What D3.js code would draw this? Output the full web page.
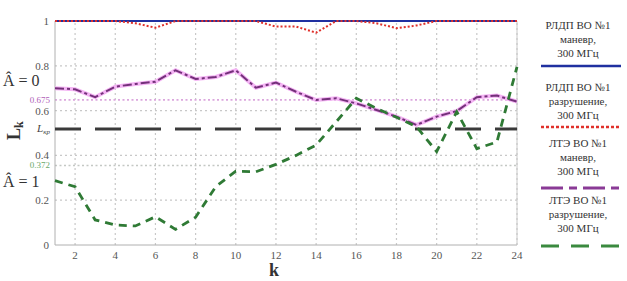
<!DOCTYPE html>
<html>
<head>
<meta charset="utf-8">
<script src="https://cdnjs.cloudflare.com/ajax/libs/d3/7.8.5/d3.min.js"></script>
<style>
  body { margin: 0; background: #fff; }
  svg text { font-family: "Liberation Serif", "Times New Roman", Times, "DejaVu Serif", serif; }
</style>
</head>
<body>
<div id="Area"></div>
<script>
// data
var kValues = d3.range(1, 25);
var xTicks = [2, 4, 6, 8, 10, 12, 14, 16, 18, 20, 22, 24];
var yTicks = [0, 0.2, 0.4, 0.6, 0.8, 1];
var yTickLabels = ["0", "0.2", "0.4", "0.6", "0.8", "1"];

var rldpManeuver = [1, 1, 1, 1, 1, 1, 1, 1, 1, 1, 1, 1, 1, 1, 1, 1, 1, 1, 1, 1, 1, 1, 1, 1];
var rldpDestroy = [1, 1, 1, 1, 0.99, 0.97, 1, 1, 1, 1, 1, 0.975, 0.975, 0.948, 1, 1, 0.99, 0.968, 0.98, 1, 1, 1, 1, 1];
var lteManeuver = [0.70, 0.695, 0.66, 0.707, 0.719, 0.729, 0.78, 0.741, 0.75, 0.78, 0.702, 0.725,
                   0.684, 0.647, 0.655, 0.632, 0.603, 0.573, 0.536, 0.573, 0.598, 0.66, 0.667, 0.64];
var lteDestroy = [0.287, 0.26, 0.112, 0.089, 0.085, 0.126, 0.07, 0.124, 0.26, 0.33, 0.327, 0.36,
                  0.40, 0.446, 0.55, 0.655, 0.61, 0.57, 0.528, 0.417, 0.595, 0.43, 0.46, 0.795];

// threshold lines (position, label as printed)
var thresholdValues = [0.648, 0.355];
var thresholdLabels = ["0.675", "0.372"];
var criticalValue = 0.518;

var legendLines1 = ["РЛДП ВО №1", "РЛДП ВО №1", "ЛТЭ ВО №1", "ЛТЭ ВО №1"];
var legendLines2 = ["маневр,", "разрушение,", "маневр,", "разрушение,"];
var legendLines3 = ["300 МГц", "300 МГц", "300 МГц", "300 МГц"];

var width = 627, height = 281;

var svg = d3.select("#Area")
  .append("svg")
  .attr("width", width)
  .attr("height", height);

var x = d3.scaleLinear().domain([1, 24]).range([55, 517]);
var y = d3.scaleLinear().domain([0, 1]).range([245, 21]);

// grid
svg.append("g")
  .selectAll("line")
  .data(xTicks)
  .enter().append("line")
  .attr("x1", d => x(d)).attr("x2", d => x(d))
  .attr("y1", y(0)).attr("y2", y(1))
  .attr("stroke", "#c8c8c8")
  .attr("stroke-width", 1.2)
  .attr("stroke-dasharray", "2,3");

svg.append("g")
  .selectAll("line")
  .data(yTicks.slice(1, 5))
  .enter().append("line")
  .attr("x1", x(1)).attr("x2", x(24))
  .attr("y1", d => y(d)).attr("y2", d => y(d))
  .attr("stroke", "#c8c8c8")
  .attr("stroke-width", 1.2)
  .attr("stroke-dasharray", "2,3");

// threshold dotted lines
var thrColors = ["#dba6dd", "#c4c8c4"];
svg.append("g")
  .selectAll("line")
  .data(thresholdValues)
  .enter().append("line")
  .attr("x1", x(1)).attr("x2", x(24))
  .attr("y1", d => y(d)).attr("y2", d => y(d))
  .attr("stroke", (d, i) => thrColors[i])
  .attr("stroke-width", 1.6)
  .attr("stroke-dasharray", "2,2.5");

// axes frame
svg.append("line")
  .attr("x1", x(1)).attr("x2", x(1))
  .attr("y1", y(0)).attr("y2", y(1))
  .attr("stroke", "#b0b0b0");
svg.append("line")
  .attr("x1", x(1)).attr("x2", x(24))
  .attr("y1", y(0)).attr("y2", y(0))
  .attr("stroke", "#b0b0b0");
svg.append("line")
  .attr("x1", x(24)).attr("x2", x(24))
  .attr("y1", y(0)).attr("y2", y(1))
  .attr("stroke", "#c8c8c8");

// x tick labels
svg.append("g")
  .selectAll("text")
  .data(xTicks)
  .enter().append("text")
  .attr("x", d => x(d))
  .attr("y", 259)
  .attr("text-anchor", "middle")
  .attr("font-size", 11)
  .attr("fill", "#555")
  .text(d => d);

// y tick labels
svg.append("g")
  .selectAll("text")
  .data(yTicks)
  .enter().append("text")
  .attr("x", 49)
  .attr("y", d => y(d) + 4)
  .attr("text-anchor", "end")
  .attr("font-size", 11)
  .attr("fill", "#555")
  .text((d, i) => yTickLabels[i]);

var thrLabelColors = ["#b060b8", "#6aa86a"];
svg.append("g")
  .selectAll("text")
  .data(thresholdValues)
  .enter().append("text")
  .attr("x", 50)
  .attr("y", d => y(d) + 3)
  .attr("text-anchor", "end")
  .attr("font-size", 9)
  .attr("fill", (d, i) => thrLabelColors[i])
  .text((d, i) => thresholdLabels[i]);

// L_кр label
var lkr = svg.append("text")
  .attr("x", 50)
  .attr("y", y(criticalValue) + 3)
  .attr("text-anchor", "end")
  .attr("font-size", 11)
  .attr("font-style", "italic")
  .attr("fill", "#444");
lkr.append("tspan").text("L");
lkr.append("tspan").attr("font-size", 7).attr("dy", 2).text("кр");

// A = 0 / A = 1 labels
svg.append("text")
  .attr("x", 3).attr("y", 86)
  .attr("font-size", 16)
  .attr("fill", "#333")
  .text("Â = 0");
svg.append("text")
  .attr("x", 3).attr("y", 187)
  .attr("font-size", 16)
  .attr("fill", "#333")
  .text("Â = 1");

// axis titles
var lk = svg.append("text")
  .attr("transform", "translate(20,140) rotate(-90)")
  .attr("font-size", 18)
  .attr("font-weight", "bold")
  .attr("fill", "#333");
lk.append("tspan").text("L");
lk.append("tspan").attr("font-size", 12).attr("dy", 3).text("k");

svg.append("text")
  .attr("x", 274).attr("y", 276)
  .attr("text-anchor", "middle")
  .attr("font-size", 18)
  .attr("font-weight", "bold")
  .attr("fill", "#333")
  .text("k");

// critical level
svg.append("line")
  .attr("x1", x(1)).attr("x2", x(24))
  .attr("y1", y(criticalValue)).attr("y2", y(criticalValue))
  .attr("stroke", "#3a3a3a")
  .attr("stroke-width", 3)
  .attr("stroke-dasharray", "26,14");

// series
var line = d3.line()
  .x((d, i) => x(kValues[i]))
  .y(d => y(d));

svg.append("path").datum(lteManeuver)
  .attr("d", line).attr("fill", "none")
  .attr("stroke", "#f4b4f4").attr("stroke-width", 4);
svg.append("path").datum(lteManeuver)
  .attr("d", line).attr("fill", "none")
  .attr("stroke", "#74307a").attr("stroke-width", 2)
  .attr("stroke-dasharray", "9,3,3,3");

svg.append("path").datum(lteDestroy)
  .attr("d", line).attr("fill", "none")
  .attr("stroke", "#2f7a35").attr("stroke-width", 2.8)
  .attr("stroke-dasharray", "8,6");

svg.append("path").datum(rldpManeuver)
  .attr("d", line).attr("fill", "none")
  .attr("stroke", "#2030a0").attr("stroke-width", 2);

svg.append("path").datum(rldpDestroy)
  .attr("d", line).attr("fill", "none")
  .attr("stroke", "#e0302a").attr("stroke-width", 2)
  .attr("stroke-dasharray", "2,2");

// legend
var legendY = [25, 87, 143, 200];
var legendLineY = [66, 127, 188, 246];
var legendCx = 578;
var leg = svg.append("g");
leg.selectAll("text.l1").data(legendY).enter().append("text")
  .attr("x", legendCx).attr("y", d => d + 4)
  .attr("text-anchor", "middle").attr("font-size", 11).attr("fill", "#333")
  .text((d, i) => legendLines1[i]);
leg.selectAll("text.l2").data(legendY).enter().append("text")
  .attr("x", legendCx).attr("y", d => d + 18)
  .attr("text-anchor", "middle").attr("font-size", 11).attr("fill", "#333")
  .text((d, i) => legendLines2[i]);
leg.selectAll("text.l3").data(legendY).enter().append("text")
  .attr("x", legendCx).attr("y", d => d + 32)
  .attr("text-anchor", "middle").attr("font-size", 11).attr("fill", "#333")
  .text((d, i) => legendLines3[i]);

var legColors = ["#2030a0", "#e0302a", "#8a3a96", "#3a8a3f"];
var legDash = [null, "3,2", "22,6,8,6", "18,12"];
var legWidth = [2.5, 2.5, 3, 3];
leg.selectAll("line").data(legendLineY).enter().append("line")
  .attr("x1", 541).attr("x2", 621)
  .attr("y1", d => d).attr("y2", d => d)
  .attr("stroke", (d, i) => legColors[i])
  .attr("stroke-width", (d, i) => legWidth[i])
  .attr("stroke-dasharray", (d, i) => legDash[i]);
</script>
</body>
</html>
